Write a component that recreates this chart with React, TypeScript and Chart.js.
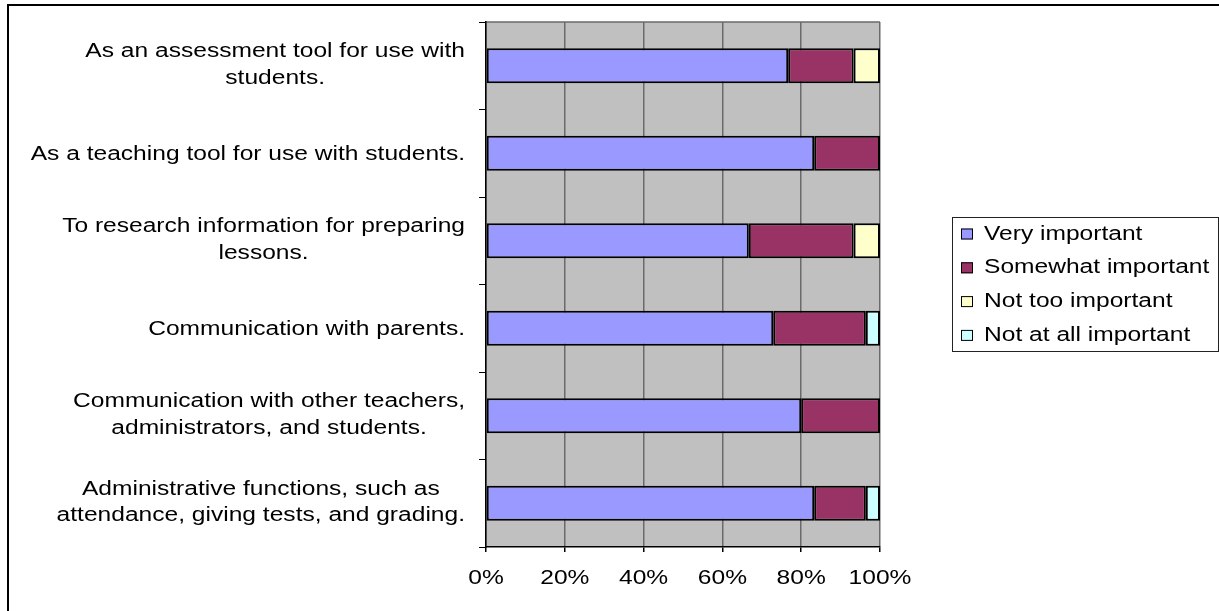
import React, { useEffect, useRef } from "react";
import { Chart, registerables } from "chart.js";

Chart.register(...registerables);

// Survey categories (each entry is one or more label lines)
const categories: string[][] = [
  ["As an assessment tool for use with", "students."],
  ["As a teaching tool for use with students."],
  ["To research information for preparing", "lessons."],
  ["Communication with parents."],
  ["Communication with other teachers,", "administrators, and students."],
  ["Administrative functions, such as", "attendance, giving tests, and grading."],
];

// Share of responses per category, in percent (null = no responses)
const veryImportant: (number | null)[] = [76.7, 83.3, 66.7, 72.9, 80.0, 83.3];
const somewhatImportant: (number | null)[] = [16.6, 16.7, 26.6, 23.5, 20.0, 13.1];
const notTooImportant: (number | null)[] = [6.7, null, 6.7, null, null, null];
const notAtAllImportant: (number | null)[] = [null, null, null, 3.6, null, 3.6];

const seriesNames = ["Very important", "Somewhat important", "Not too important", "Not at all important"];
const seriesColors = ["#9999FF", "#993366", "#FFFFCC", "#CCFFFF"];

const xTickValues = [0, 20, 40, 60, 80, 100];

const FONT = '19.5px "Liberation Sans", Arial, Helvetica, sans-serif';
const STRETCH = 1.26; // horizontal widening of all text

function drawText(
  ctx: CanvasRenderingContext2D,
  text: string,
  x: number,
  y: number,
  align: "left" | "right" | "center"
) {
  ctx.save();
  ctx.font = FONT;
  ctx.fillStyle = "#000";
  ctx.textBaseline = "alphabetic";
  ctx.textAlign = "left";
  const w = ctx.measureText(text).width * STRETCH;
  const left = align === "left" ? x : align === "right" ? x - w : x - w / 2;
  ctx.translate(left, y);
  ctx.scale(STRETCH, 1);
  ctx.fillText(text, 0, 0);
  ctx.restore();
}

function textWidth(ctx: CanvasRenderingContext2D, text: string) {
  ctx.save();
  ctx.font = FONT;
  const w = ctx.measureText(text).width * STRETCH;
  ctx.restore();
  return w;
}

const decorPlugin = {
  id: "decor",
  beforeDraw(chart: any) {
    const { ctx, chartArea } = chart;
    ctx.save();
    ctx.fillStyle = "#C0C0C0";
    ctx.fillRect(chartArea.left, chartArea.top, chartArea.right - chartArea.left, chartArea.bottom - chartArea.top);
    ctx.strokeStyle = "#6a6a6a";
    ctx.lineWidth = 1.5;
    ctx.beginPath();
    ctx.moveTo(chartArea.left, chartArea.top);
    ctx.lineTo(chartArea.right, chartArea.top);
    ctx.stroke();
    ctx.restore();
  },
  afterDraw(chart: any) {
    const { ctx, chartArea } = chart;
    const xs = chart.scales.x;
    const ys = chart.scales.y;

    // category labels: block right-aligned to the axis, lines centred within the block
    const rightEdge = chartArea.left - 21;
    categories.forEach((lines, i) => {
      const cy = ys.getPixelForValue(i);
      const blockW = Math.max(...lines.map((l) => textWidth(ctx, l)));
      const cx = rightEdge - blockW / 2;
      const first = cy + 6.5 - (lines.length - 1) * 15.2;
      lines.forEach((line, j) => {
        drawText(ctx, line, cx, first + j * 26.6, "center");
      });
    });

    // percentage tick labels
    xTickValues.forEach((v) => {
      drawText(ctx, `${v}%`, xs.getPixelForValue(v), chartArea.bottom + 37, "center");
    });

    // legend
    const lx = chartArea.right + 72;
    const ly = chartArea.top + 195;
    ctx.save();
    ctx.strokeStyle = "#222";
    ctx.lineWidth = 1;
    ctx.strokeRect(lx + 0.5, ly + 0.5, 266, 134);
    ctx.restore();
    chart.data.datasets.forEach((ds: any, i: number) => {
      const base = ly + 22.5 + i * 33.8;
      ctx.save();
      ctx.fillStyle = ds.backgroundColor;
      ctx.fillRect(lx + 9, base - 11, 12, 11);
      ctx.strokeStyle = "#000";
      ctx.lineWidth = 1;
      ctx.strokeRect(lx + 9.5, base - 10.5, 11, 10);
      ctx.restore();
      drawText(ctx, ds.label, lx + 32, base, "left");
    });

    // outer frame
    ctx.save();
    ctx.fillStyle = "#000";
    ctx.fillRect(7, 4, 2, chart.height - 4);
    ctx.fillRect(7, 4, chart.width - 7, 2);
    ctx.restore();
  },
};

export default function App() {
  const canvasRef = useRef<HTMLCanvasElement | null>(null);

  useEffect(() => {
    if (!canvasRef.current) return;
    const values = [veryImportant, somewhatImportant, notTooImportant, notAtAllImportant];
    const chart = new Chart(canvasRef.current, {
      type: "bar",
      data: {
        labels: categories.map((l) => l.join(" ")),
        datasets: seriesNames.map((name, i) => ({
          label: name,
          data: values[i],
          backgroundColor: seriesColors[i],
          borderColor: "#000",
          borderWidth: 2,
          borderSkipped: false,
          barPercentage: 0.4,
          categoryPercentage: 1.0,
        })),
      },
      options: {
        indexAxis: "y",
        responsive: false,
        devicePixelRatio: 1,
        animation: false,
        layout: { padding: { left: 0, top: 22, right: 339, bottom: 0 } },
        plugins: {
          legend: { display: false },
          tooltip: { enabled: false },
          title: { display: false },
        },
        scales: {
          x: {
            type: "linear",
            stacked: true,
            min: 0,
            max: 100,
            ticks: { stepSize: 20, display: false },
            grid: {
              color: "#6a6a6a",
              lineWidth: 1.5,
              tickColor: "#000",
              tickLength: 5,
              drawTicks: true,
            },
            border: { display: true, color: "#000", width: 1.5 },
            afterFit: (scale: any) => {
              scale.height = 64;
            },
          },
          y: {
            type: "category",
            stacked: true,
            offset: true,
            ticks: { display: false },
            grid: {
              offset: true,
              drawOnChartArea: false,
              drawTicks: true,
              tickLength: 7,
              tickColor: "#000",
              lineWidth: 1,
            },
            border: { display: true, color: "#000", width: 1.5 },
            afterFit: (scale: any) => {
              scale.width = 486;
            },
          },
        },
      },
      plugins: [decorPlugin],
    } as any);
    return () => chart.destroy();
  }, []);

  return (
    <div style={{ position: "fixed", left: 0, top: 0, width: 1219, height: 611, background: "#fff" }}>
      <canvas ref={canvasRef} width={1219} height={611} style={{ display: "block" }} />
    </div>
  );
}
